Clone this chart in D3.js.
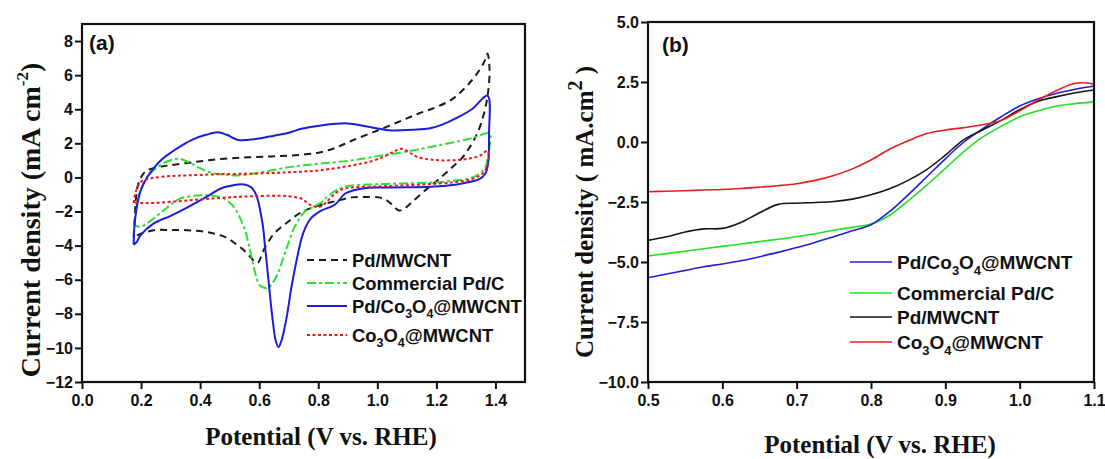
<!DOCTYPE html>
<html>
<head>
<meta charset="utf-8">
<script src="https://cdn.jsdelivr.net/npm/d3@7"></script>
<style>
body { margin: 0; background: #fff; }
svg text { font-family: Arial, "Liberation Sans", sans-serif; font-weight: bold; fill: #111; }
svg text.title { font-family: "Times New Roman", "Liberation Serif", serif; }
</style>
</head>
<body>
<svg id="chart" width="1105" height="459"></svg>
<script>
// ---- panel (a): cyclic voltammograms, [potential V, current mA cm-2] ----
const cvLabels = ['Pd/MWCNT', 'Commercial Pd/C', 'Pd/Co3O4@MWCNT', 'Co3O4@MWCNT'];

const cvPdMwcnt = [
	[0.175, -3.5], [0.178, -2.5], [0.183, -1.2], [0.191, -0.35], [0.205, 0.15], [0.22, 0.41], [0.26, 0.6],
	[0.3, 0.72], [0.38, 0.9], [0.47, 1.08], [0.56, 1.18], [0.64, 1.23], [0.72, 1.3], [0.8, 1.45], [0.86, 1.75],
	[0.913, 2.15], [1.0, 2.75], [1.083, 3.34], [1.14, 3.75], [1.196, 4.1], [1.25, 4.55], [1.288, 5.1],
	[1.32, 5.7], [1.346, 6.3], [1.365, 6.9], [1.373, 7.27],
	[1.38, 6.3], [1.375, 5.0], [1.366, 4.1], [1.35, 3.1], [1.332, 2.35], [1.31, 1.7], [1.288, 1.17],
	[1.26, 0.7], [1.23, 0.23], [1.195, -0.3], [1.162, -0.76], [1.12, -1.4], [1.09, -1.85], [1.073, -1.94],
	[1.05, -1.6], [1.032, -1.35], [1.005, -1.17], [0.95, -1.15], [0.913, -1.17], [0.88, -1.3], [0.856, -1.4],
	[0.81, -1.6], [0.775, -1.8], [0.743, -2.05], [0.72, -2.3], [0.698, -2.6], [0.675, -2.9], [0.65, -3.3],
	[0.63, -3.8], [0.617, -4.2], [0.605, -4.7], [0.596, -5.0], [0.585, -4.95], [0.572, -4.7], [0.55, -4.3],
	[0.528, -4.0], [0.5, -3.65], [0.47, -3.4], [0.42, -3.2], [0.357, -3.1], [0.3, -3.08], [0.243, -3.1],
	[0.2, -3.3], [0.187, -3.4], [0.175, -3.5]
];

const cvPdC = [
	[0.178, -2.8], [0.18, -2.3], [0.19, -1.2], [0.208, -0.35], [0.23, 0.2], [0.255, 0.6], [0.29, 0.95],
	[0.327, 1.1], [0.36, 0.9], [0.392, 0.6], [0.42, 0.38], [0.447, 0.23], [0.49, 0.15], [0.528, 0.12],
	[0.58, 0.22], [0.64, 0.41], [0.7, 0.6], [0.743, 0.7], [0.8, 0.8], [0.913, 1.0], [1.0, 1.25],
	[1.083, 1.47], [1.17, 1.75], [1.254, 2.05], [1.32, 2.3], [1.38, 2.58],
	[1.38, 1.8], [1.375, 1.2], [1.366, 0.6], [1.345, 0.2], [1.31, -0.06], [1.25, -0.2], [1.196, -0.29],
	[1.083, -0.35], [1.0, -0.4], [0.913, -0.47], [0.88, -0.6], [0.856, -0.8], [0.83, -1.15], [0.81, -1.47],
	[0.78, -1.75], [0.755, -2.0], [0.72, -2.9], [0.698, -3.9], [0.68, -4.8], [0.664, -5.6], [0.645, -6.2],
	[0.629, -6.5], [0.614, -6.45], [0.6, -6.3], [0.585, -5.5], [0.572, -4.5], [0.56, -3.6], [0.548, -2.9],
	[0.53, -2.2], [0.515, -1.75], [0.49, -1.35], [0.47, -1.17], [0.43, -1.05], [0.39, -1.06], [0.334, -1.23],
	[0.3, -1.6], [0.277, -1.93], [0.25, -2.3], [0.22, -2.7], [0.198, -2.9], [0.185, -2.85], [0.178, -2.8]
];

const cvPdCo3o4 = [
	[0.175, -3.95], [0.177, -3.0], [0.185, -1.8], [0.198, -0.8], [0.22, 0.0], [0.243, 0.55], [0.27, 1.05],
	[0.3, 1.45], [0.34, 1.9], [0.378, 2.25], [0.42, 2.5], [0.46, 2.65], [0.49, 2.5], [0.528, 2.2],
	[0.56, 2.2], [0.606, 2.3], [0.65, 2.45], [0.7, 2.62], [0.743, 2.85], [0.81, 3.05], [0.9, 3.17],
	[0.96, 3.0], [1.05, 2.76], [1.12, 2.8], [1.175, 2.87], [1.22, 3.1], [1.265, 3.46], [1.32, 4.0], [1.373, 4.8],
	[1.378, 2.5], [1.375, 0.8], [1.365, 0.2], [1.345, -0.1], [1.288, -0.35], [1.196, -0.53], [1.1, -0.58],
	[1.026, -0.59], [0.97, -0.6], [0.92, -0.75], [0.89, -0.96], [0.856, -1.6], [0.81, -1.95], [0.775, -2.4],
	[0.755, -3.0], [0.743, -3.6], [0.725, -5.0], [0.709, -6.45], [0.695, -8.0], [0.685, -8.9], [0.675, -9.6],
	[0.665, -9.95], [0.655, -9.5], [0.646, -8.4], [0.637, -7.0], [0.629, -5.6], [0.62, -4.1], [0.613, -2.9],
	[0.604, -2.0], [0.596, -1.35], [0.585, -0.85], [0.572, -0.57], [0.55, -0.42], [0.528, -0.41], [0.5, -0.5],
	[0.47, -0.65], [0.42, -1.15], [0.357, -1.75], [0.3, -2.25], [0.243, -2.7], [0.198, -3.4], [0.185, -3.8],
	[0.175, -3.95]
];

const cvCo3o4 = [
	[0.175, -1.5], [0.177, -1.2], [0.185, -0.7], [0.198, -0.29], [0.22, -0.1], [0.243, -0.02], [0.3, 0.08],
	[0.357, 0.12], [0.45, 0.18], [0.583, 0.23], [0.7, 0.3], [0.8, 0.41], [0.913, 0.7], [0.98, 0.95],
	[1.026, 1.25], [1.06, 1.55], [1.083, 1.68], [1.11, 1.45], [1.14, 1.17], [1.18, 1.05], [1.22, 1.0],
	[1.27, 1.02], [1.31, 1.1], [1.35, 1.3], [1.373, 1.58],
	[1.378, 1.2], [1.37, 0.6], [1.356, 0.23], [1.32, -0.1], [1.254, -0.29], [1.17, -0.4], [1.083, -0.47],
	[1.0, -0.53], [0.913, -0.59], [0.88, -0.7], [0.856, -0.96], [0.83, -1.4], [0.81, -1.7], [0.79, -1.72],
	[0.777, -1.64], [0.76, -1.45], [0.743, -1.25], [0.698, -1.1], [0.583, -1.1], [0.47, -1.2], [0.357, -1.35],
	[0.243, -1.5], [0.2, -1.5], [0.18, -1.47], [0.175, -1.5]
];

const cvXTicks = [0, 0.2, 0.4, 0.6, 0.8, 1.0, 1.2, 1.4];
const cvYTicks = [-12, -10, -8, -6, -4, -2, 0, 2, 4, 6, 8];

// ---- panel (b): linear sweep curves ----
const lsvLabels = ['Pd/Co3O4@MWCNT', 'Commercial Pd/C', 'Pd/MWCNT', 'Co3O4@MWCNT'];
const lsvPotential = [0.5, 0.525, 0.55, 0.575, 0.6, 0.625, 0.65, 0.675, 0.7, 0.725, 0.75, 0.775, 0.8,
	0.825, 0.85, 0.875, 0.9, 0.925, 0.95, 0.975, 1.0, 1.025, 1.05, 1.075, 1.1];
const lsvPdCo3o4 = [-5.66, -5.5, -5.35, -5.2, -5.08, -4.95, -4.78, -4.6, -4.4, -4.18, -3.95, -3.7, -3.45,
	-2.9, -2.2, -1.45, -0.7, 0.0, 0.55, 1.05, 1.5, 1.8, 2.03, 2.2, 2.33];
const lsvPdC = [-4.75, -4.65, -4.55, -4.45, -4.35, -4.25, -4.15, -4.05, -3.95, -3.82, -3.68, -3.55, -3.42,
	-3.05, -2.45, -1.8, -1.1, -0.4, 0.2, 0.65, 1.05, 1.3, 1.5, 1.6, 1.67];
const lsvPdMwcnt = [-4.1, -3.95, -3.75, -3.62, -3.6, -3.35, -2.95, -2.6, -2.55, -2.52, -2.48, -2.38, -2.2,
	-1.95, -1.6, -1.15, -0.55, 0.1, 0.5, 0.9, 1.35, 1.7, 1.89, 2.05, 2.17];
const lsvCo3o4 = [-2.07, -2.05, -2.03, -2.0, -1.98, -1.94, -1.88, -1.82, -1.74, -1.6, -1.4, -1.12, -0.75,
	-0.3, 0.05, 0.35, 0.5, 0.6, 0.72, 0.9, 1.3, 1.75, 2.15, 2.45, 2.42];

const lsvXTicks = [0.5, 0.6, 0.7, 0.8, 0.9, 1.0, 1.1];
const lsvYTicks = [-10, -7.5, -5, -2.5, 0, 2.5, 5];

const svg = d3.select('#chart');

// text with the digits drawn as subscripts (Co3O4)
const subText = (sel, label, size) => {
	label.split(/(\d)/).forEach((part, i) => {
		if (!part) { return; }
		if (i % 2) {
			sel.append('tspan').attr('font-size', size * 0.68).attr('dy', size * 0.3).text(part);
		} else {
			sel.append('tspan').attr('dy', i > 0 ? -size * 0.3 : 0).text(part);
		}
	});
};

const drawAxes = (x, y, xTicks, yTicks, xFmt, yFmt) => {
	const [x0, x1] = x.range();
	const [y0, y1] = y.range();
	const gx = svg.append('g')
		.attr('transform', `translate(0,${y0})`)
		.call(d3.axisBottom(x).tickValues(xTicks).tickFormat(xFmt).tickSize(7).tickPadding(6).tickSizeOuter(0));
	const gy = svg.append('g')
		.attr('transform', `translate(${x0},0)`)
		.call(d3.axisLeft(y).tickValues(yTicks).tickFormat(yFmt).tickSize(7).tickPadding(2).tickSizeOuter(0));
	for (const g of [gx, gy]) {
		g.select('.domain').remove();
		g.selectAll('.tick line').attr('stroke', '#111').attr('stroke-width', 2);
		g.selectAll('.tick text').attr('font-size', 16).attr('fill', '#222')
			.style('font-family', 'Arial, "Liberation Sans", sans-serif').style('font-weight', 'bold');
	}
	svg.append('rect')
		.attr('x', x0).attr('y', y1)
		.attr('width', x1 - x0).attr('height', y0 - y1)
		.attr('fill', 'none').attr('stroke', '#111').attr('stroke-width', 2.2);
};

// ---------- panel (a) ----------
const xA = d3.scaleLinear().domain([0, 1.5]).range([82, 525]);
const yA = d3.scaleLinear().domain([-12, 9]).range([382, 24]);

const cvStyles = [
	{ data: cvPdMwcnt, color: '#1a1a1a', dash: '7,5' },
	{ data: cvPdC, color: '#2ee02e', dash: '9,3,3,3' },
	{ data: cvPdCo3o4, color: '#1c1cdc', dash: null },
	{ data: cvCo3o4, color: '#ee1818', dash: '3,2.5' }
];

const lineA = d3.line().x(d => xA(d[0])).y(d => yA(d[1])).curve(d3.curveCatmullRom.alpha(0.5));

for (const s of cvStyles) {
	svg.append('path')
		.attr('d', lineA(s.data))
		.attr('fill', 'none')
		.attr('stroke', s.color)
		.attr('stroke-width', 2)
		.attr('stroke-dasharray', s.dash);
}

drawAxes(xA, yA, cvXTicks, cvYTicks, d3.format('.1f'), d3.format('d'));

svg.append('text').attr('x', 89).attr('y', 50).attr('font-size', 21).text('(a)');

const legA = [260, 283, 306, 335];
cvLabels.forEach((label, i) => {
	const s = cvStyles[i];
	svg.append('line')
		.attr('x1', 307).attr('x2', 347).attr('y1', legA[i]).attr('y2', legA[i])
		.attr('stroke', s.color).attr('stroke-width', 2).attr('stroke-dasharray', s.dash);
	const t = svg.append('text').attr('x', 352).attr('y', legA[i] + 6.5).attr('font-size', 18.4);
	subText(t, label, 18.4);
});

svg.append('text').attr('class', 'title')
	.attr('x', 321).attr('y', 445).attr('font-size', 25).attr('text-anchor', 'middle')
	.text('Potential (V vs. RHE)');

const ylabA = svg.append('text').attr('class', 'title')
	.attr('transform', 'translate(40,220) rotate(-90)')
	.attr('font-size', 28).attr('text-anchor', 'middle');
ylabA.append('tspan').text('Current density (mA cm');
ylabA.append('tspan').attr('font-size', 17).attr('dy', -12).text('-2');
ylabA.append('tspan').attr('dy', 12).text(')');

// ---------- panel (b) ----------
const xB = d3.scaleLinear().domain([0.5, 1.1]).range([648, 1094]);
const yB = d3.scaleLinear().domain([-10, 5]).range([382, 22]);

const lsvStyles = [
	{ data: lsvPdCo3o4, color: '#1f1fd6' },
	{ data: lsvPdC, color: '#22e022' },
	{ data: lsvPdMwcnt, color: '#151515' },
	{ data: lsvCo3o4, color: '#e81c1c' }
];

const lineB = d3.line().x((d, i) => xB(lsvPotential[i])).y(d => yB(d)).curve(d3.curveCatmullRom.alpha(0.5));

for (const s of [lsvStyles[1], lsvStyles[0], lsvStyles[2], lsvStyles[3]]) {
	svg.append('path')
		.attr('d', lineB(s.data))
		.attr('fill', 'none')
		.attr('stroke', s.color)
		.attr('stroke-width', 1.6);
}

drawAxes(xB, yB, lsvXTicks, lsvYTicks, d3.format('.1f'), d3.format('.1f'));

svg.append('text').attr('x', 662).attr('y', 52).attr('font-size', 21).text('(b)');

const legB = [262, 293, 317, 342];
lsvLabels.forEach((label, i) => {
	const s = lsvStyles[i];
	svg.append('line')
		.attr('x1', 850).attr('x2', 892).attr('y1', legB[i]).attr('y2', legB[i])
		.attr('stroke', s.color).attr('stroke-width', 1.6);
	const t = svg.append('text').attr('x', 897).attr('y', legB[i] + 7).attr('font-size', 19);
	subText(t, label, 19);
});

svg.append('text').attr('class', 'title')
	.attr('x', 880).attr('y', 453).attr('font-size', 25).attr('text-anchor', 'middle')
	.text('Potential (V vs. RHE)');

const ylabB = svg.append('text').attr('class', 'title')
	.attr('transform', 'translate(593,212) rotate(-90)')
	.attr('font-size', 25).attr('text-anchor', 'middle');
ylabB.append('tspan').text('Current density ( mA.cm');
ylabB.append('tspan').attr('font-size', 20).attr('dy', -11).text('2');
ylabB.append('tspan').attr('dy', 11).text(' )');
</script>
</body>
</html>
